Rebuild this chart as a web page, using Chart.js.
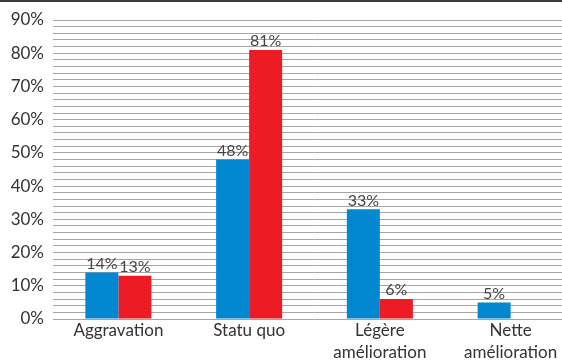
<!DOCTYPE html>
<html>
<head>
<meta charset="utf-8">
<script src="https://cdn.jsdelivr.net/npm/chart.js@4"></script>
<style>
  html, body { margin: 0; padding: 0; background: #fff; overflow: hidden; }
  #wrap { position: relative; width: 576px; height: 361px; }
  #topLine { position: absolute; left: 0; top: 0; width: 562px; height: 2px; background: #3a3a3a; }
</style>
</head>
<body>
<div id="wrap">
  <canvas id="chart" width="576" height="361"></canvas>
  <div id="topLine"></div>
</div>
<script>
const categories = ['Aggravation', 'Statu quo', ['Légère', 'amélioration'], ['Nette', 'amélioration']]
const blueValues = [14, 48, 33, 5]
const redValues = [13, 81, 6, 0]
const yMax = 90

const fontFamily = 'Lato, "Open Sans", sans-serif'

// percentage above each bar (skip empty bars)
const valueLabels = {
  id: 'valueLabels',
  afterDatasetsDraw(chart) {
    const ctx = chart.ctx
    ctx.save()
    ctx.font = '16px ' + fontFamily
    ctx.fillStyle = '#444'
    ctx.textAlign = 'center'
    ctx.textBaseline = 'bottom'
    chart.data.datasets.forEach((ds, i) => {
      chart.getDatasetMeta(i).data.forEach((bar, j) => {
        const v = ds.data[j]
        if (!v) return
        ctx.fillText(v + '%', bar.x, bar.y - 1)
      })
    })
    ctx.restore()
  }
}

const config = {
  type: 'bar',
  data: {
    labels: categories,
    datasets: [
      { label: 'A', data: blueValues, backgroundColor: '#0288d1' },
      { label: 'B', data: redValues, backgroundColor: '#ed1c24' }
    ]
  },
  options: {
    responsive: false,
    animation: false,
    layout: { padding: { top: 20, left: 0, right: 0, bottom: 0 } },
    datasets: { bar: { categoryPercentage: 0.505, barPercentage: 1 } },
    plugins: { legend: { display: false }, tooltip: { enabled: false } },
    scales: {
      x: {
        grid: { display: false, drawTicks: false },
        border: { display: false },
        ticks: {
          color: '#333',
          font: { family: fontFamily, size: 17, lineHeight: 1.3 },
          padding: 0,
          maxRotation: 0,
          autoSkip: false
        },
        afterFit(scale) { scale.height = 42 }
      },
      y: {
        min: 0,
        max: yMax,
        grid: { color: '#a6a6a6', lineWidth: 1, drawTicks: false },
        border: { display: false },
        ticks: {
          stepSize: 2,
          color: '#333',
          font: { family: fontFamily, size: 17 },
          padding: 9,
          autoSkip: false,
          callback: v => (v % 10 === 0 ? v + '%' : '')
        },
        afterFit(scale) { scale.width = 53 }
      }
    }
  },
  plugins: [valueLabels]
}

new Chart(document.getElementById('chart').getContext('2d'), config)
</script>
</body>
</html>
